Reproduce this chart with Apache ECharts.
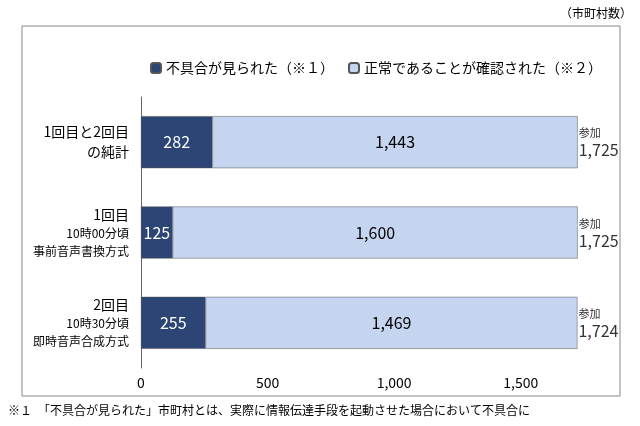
<!DOCTYPE html>
<html><head><meta charset="utf-8">
<script src="https://cdn.jsdelivr.net/npm/echarts@6/dist/echarts.min.js"></script>
<style>html,body{margin:0;background:#fff}#c{width:640px;height:426px}</style>
</head><body><div id="c"></div>
<script>
// データ
var categories = ['1回目と2回目\nの純計', '1回目\n10時00分頃\n事前音声書換方式', '2回目\n10時30分頃\n即時音声合成方式'];
var failed = [282, 125, 255];
var normal = [1443, 1600, 1469];
var totals = [1725, 1725, 1724];
var xTicks = [0, 500, 1000, 1500];

var font = '"Noto Sans CJK JP", sans-serif';
var chart = echarts.init(document.getElementById('c'));
var fmt = function (v) { return v.toLocaleString('en-US'); };

chart.setOption({
	animation: false,
	textStyle: { fontFamily: font, color: '#000' },
	graphic: [
		{ type: 'rect', shape: { x: 22, y: 26, width: 598, height: 370 }, style: { fill: 'none', stroke: '#888', lineWidth: 1 } },
		{ type: 'text', right: 8, top: 7, style: { text: '（市町村数）', font: '12px ' + font, fill: '#000' } },
		{ type: 'text', left: 8, top: 404, style: { text: '※１　「不具合が見られた」市町村とは、実際に情報伝達手段を起動させた場合において不具合に', font: '12px ' + font, fill: '#000' } }
	],
	legend: {
		top: 56, left: 145, itemWidth: 10, itemHeight: 10, itemGap: 14,
		textStyle: { fontSize: 14, fontFamily: font, color: '#000' },
		data: ['不具合が見られた（※１）', '正常であることが確認された（※２）']
	},
	grid: { left: 141, right: 56, top: 97, bottom: 58 },
	xAxis: {
		type: 'value', min: 0, max: 1750, interval: 500,
		axisLabel: { fontSize: 14, color: '#000', formatter: function (v) { return xTicks.indexOf(v) >= 0 ? fmt(v) : ''; } },
		splitLine: { show: false }, axisLine: { show: false }, axisTick: { show: false }
	},
	yAxis: {
		type: 'category', inverse: true, data: categories,
		axisLabel: { fontSize: 12, color: '#000', lineHeight: 18, margin: 12,
			formatter: function (v) {
				var p = v.split('\n');
				return p.map(function (s, i) { return (i === 0 || p.length === 2 ? '{a|' : '{b|') + s + '}'; }).join('\n');
			},
			rich: { a: { fontSize: 14, lineHeight: 20 }, b: { fontSize: 12, lineHeight: 18 } } },
		axisLine: { lineStyle: { color: '#666' } }, axisTick: { show: false }
	},
	series: [
		{ name: '不具合が見られた（※１）', type: 'bar', stack: 't', data: failed, barWidth: 52,
			itemStyle: { color: '#2c4574', borderColor: '#555', borderWidth: 0.5 },
			label: { show: true, color: '#fff', fontSize: 16, formatter: function (p) { return fmt(p.value); } } },
		{ name: '正常であることが確認された（※２）', type: 'bar', stack: 't', data: normal,
			itemStyle: { color: '#c6d5ef', borderColor: '#555', borderWidth: 0.5 },
			label: { show: true, color: '#000', fontSize: 16, formatter: function (p) { return fmt(p.value); } } },
		{ type: 'bar', stack: 't', data: [0, 0, 0], itemStyle: { color: 'transparent' },
			label: { show: true, position: 'right', distance: 1, align: 'left',
				formatter: function (p) { return '{s|参加}\n{n|' + fmt(totals[p.dataIndex]) + '}'; },
				rich: { s: { fontSize: 11, lineHeight: 16 }, n: { fontSize: 16, lineHeight: 18 } } } }
	]
});
</script></body></html>
